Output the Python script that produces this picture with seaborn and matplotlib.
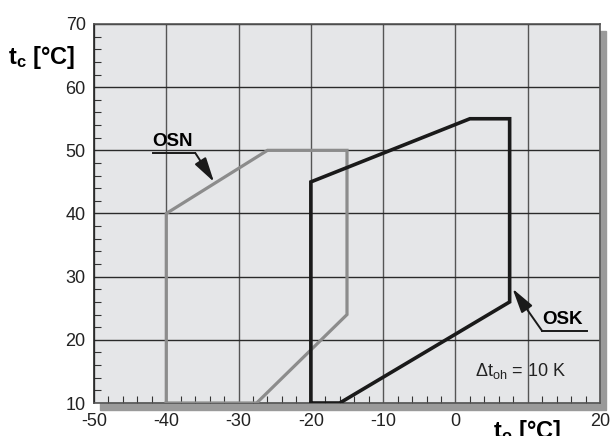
import pandas as pd
import matplotlib
matplotlib.use('Agg')
import matplotlib.pyplot as plt
from matplotlib.patches import Rectangle
from matplotlib.ticker import MultipleLocator
import seaborn as sns

# 1) Envelope corners: evaporating temp t_o vs condensing temp t_c
osn_to = [-40, -40, -26, -15, -15, -27.5, -40]
osn_tc = [10, 40, 50, 50, 24, 10, 10]
osk_to = [-20, -20, 2, 7.5, 7.5, -16, -20]
osk_tc = [10, 45, 55, 55, 26, 10, 10]

x_ticks = [-50, -40, -30, -20, -10, 0, 10, 20]
x_labels = ['-50', '-40', '-30', '-20', '-10', '0', '', '20']   # 10 is covered by the axis name
y_ticks = [10, 20, 30, 40, 50, 60, 70]

df = pd.concat([
    pd.DataFrame({'to': osn_to, 'tc': osn_tc, 'model': 'OSN'}),
    pd.DataFrame({'to': osk_to, 'tc': osk_tc, 'model': 'OSK'}),
], ignore_index=True)

# 2) Style
plt.rcParams['font.family'] = ['Liberation Sans', 'DejaVu Sans']
plt.rcParams['axes.unicode_minus'] = False
plt.rcParams['mathtext.fontset'] = 'custom'
plt.rcParams['mathtext.rm'] = 'Liberation Sans'
plt.rcParams['mathtext.it'] = 'Liberation Sans'
plt.rcParams['mathtext.bf'] = 'Liberation Sans:bold'

fig = plt.figure(figsize=(6.14, 4.36), dpi=100)
ax = fig.add_axes([94 / 614, 1 - 403 / 436, 506 / 614, 379 / 436])
ax.set_facecolor('#e5e6e8')

# drop shadow behind the plot area
pos = ax.get_position()
dx, dy = 6 / 614, 7 / 436
fig.patches.append(Rectangle((pos.x0 + dx, pos.y0 - dy), pos.width, pos.height,
                             transform=fig.transFigure, color='#9a9a9a', zorder=-1))

# 3) Plot envelopes
sns.lineplot(data=df[df.model == 'OSN'], x='to', y='tc', sort=False, estimator=None,
             color='#8c8c8c', lw=2.3, ax=ax, solid_joinstyle='miter', zorder=3)
sns.lineplot(data=df[df.model == 'OSK'], x='to', y='tc', sort=False, estimator=None,
             color='#1a1a1a', lw=2.6, ax=ax, solid_joinstyle='miter', zorder=4)

ax.set_xlim(-50, 20)
ax.set_ylim(10, 70)
ax.set_xticks(x_ticks)
ax.set_xticklabels(x_labels)
ax.set_yticks(y_ticks)
ax.xaxis.set_minor_locator(MultipleLocator(2))
ax.yaxis.set_minor_locator(MultipleLocator(2))
ax.tick_params(which='major', length=0, labelsize=13, colors='#222')
ax.tick_params(axis='y', which='major', pad=6)
ax.tick_params(axis='x', which='major', pad=7)
ax.tick_params(which='minor', direction='in', length=5, width=0.8, color='#333')
ax.xaxis.grid(True, color='#555', lw=1)
ax.yaxis.grid(True, color='#2a2a2a', lw=1)
ax.set_axisbelow(True)
ax.set_xlabel('')
ax.set_ylabel('')
for s in ax.spines.values():
    s.set_color('#555')
    s.set_linewidth(1.2)
ax.spines['left'].set_color('#222')

# 4) Labels & annotations
fig.text(8 / 614, 1 - 57 / 436, r'$\mathbf{t_c}$ [°C]', fontsize=17, fontweight='bold',
         va='center', ha='left')
fig.text(493 / 614, 1 - 418 / 436, r'$\mathbf{t_o}$ [°C]', fontsize=17, fontweight='bold',
         va='top', ha='left')

arrow = dict(arrowstyle='-|>,head_length=0.75,head_width=0.2', color='#1a1a1a',
             lw=1.4, mutation_scale=20, shrinkA=0, shrinkB=0)

ax.text(-41.9, 50.1, 'OSN', fontsize=13.5, fontweight='bold', ha='left', va='bottom')
ax.plot([-41.9, -36.0], [49.6, 49.6], color='#1a1a1a', lw=1.4, zorder=5)
ax.annotate('', xy=(-33.4, 45.0), xytext=(-36.0, 49.6), arrowprops=arrow, zorder=5)

ax.text(12.0, 21.8, 'OSK', fontsize=13.5, fontweight='bold', ha='left', va='bottom')
ax.plot([12.0, 18.2], [21.4, 21.4], color='#1a1a1a', lw=1.4, zorder=5)
ax.annotate('', xy=(7.9, 28.1), xytext=(12.0, 21.4), arrowprops=arrow, zorder=5)

ax.text(2.7, 15.1, r'$\Delta$t$_{\mathrm{oh}}$ = 10 K', fontsize=13, ha='left', va='center',
        color='#222')

fig.savefig('out.png', dpi=100)
